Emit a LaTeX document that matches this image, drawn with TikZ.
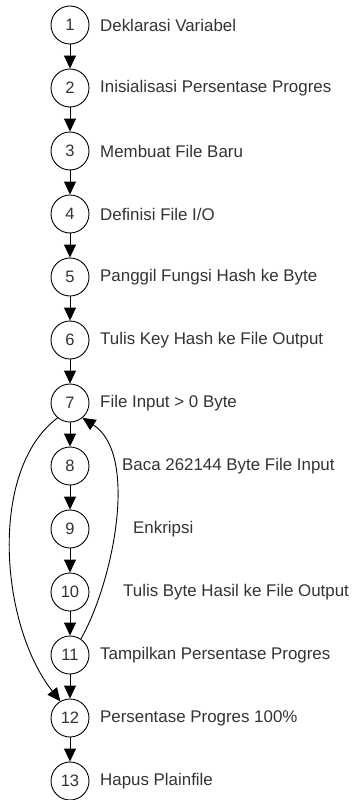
\documentclass[tikz,border=0pt]{standalone}
\usepackage{fontspec}
\setmainfont{Liberation Sans}
\usetikzlibrary{arrows.meta}
\begin{document}
\begin{tikzpicture}[x=1pt,y=-1pt,
  stepnode/.style={circle,draw=black,line width=0.9pt,minimum size=38pt,inner sep=0pt,font=\fontsize{16.5}{19}\selectfont,text=black!80},
  lbl/.style={anchor=west,inner sep=0pt,font=\fontsize{16.9}{20}\selectfont,text=black!80},
  flow/.style={draw=black,line width=0.9pt,-{Triangle[length=13pt,width=12pt]}}]
\useasboundingbox (0,0) rectangle (351,800);
\foreach \i in {1,...,13}{
  \node[stepnode] (n\i) at (70,{25+63*(\i-1)}) {\i};
}
\node[lbl] (t1) at (100,25) {Deklarasi Variabel};
\node[lbl] (t2) at (100,88) {Inisialisasi Persentase Progres};
\node[lbl] (t3) at (100,151) {Membuat File Baru};
\node[lbl] (t4) at (100,214) {Definisi File I/O};
\node[lbl] (t5) at (100,277) {Panggil Fungsi Hash ke Byte};
\node[lbl] (t6) at (100,340) {Tulis Key Hash ke File Output};
\node[lbl] (t7) at (100,403) {File Input > 0 Byte};
\node[lbl] (t8) at (122,466) {Baca 262144 Byte File Input};
\node[lbl] (t9) at (133,529) {Enkripsi};
\node[lbl] (t10) at (123,592) {Tulis Byte Hasil ke File Output};
\node[lbl] (t11) at (100,655) {Tampilkan Persentase Progres};
\node[lbl] (t12) at (100,718) {Persentase Progres 100\%};
\node[lbl] (t13) at (100,781) {Hapus Plainfile};
\foreach \i [evaluate=\i as \j using int(\i+1)] in {1,...,12}{
  \draw[flow] (n\i) -- (n\j);
}
\draw[flow] (n7.230) .. controls (-12,470) and (0,625) .. (n12.120);
\draw[flow] (n11.56) .. controls (112,585) and (140,455) .. (n7.-50);
\end{tikzpicture}
\end{document}
